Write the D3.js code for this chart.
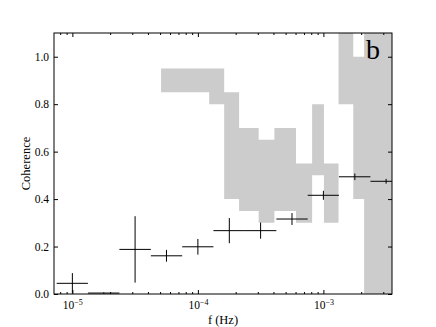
<!DOCTYPE html>
<html>
<head>
<meta charset="utf-8">
<script src="https://cdn.jsdelivr.net/npm/d3@7"></script>
<style>
  body { margin: 0; background: #fff; }
  svg text { font-family: "Liberation Serif", "DejaVu Serif", serif; fill: #000; }
</style>
</head>
<body>
<svg id="chart" width="436" height="327"></svg>
<script>
/* Data */
const freq   = [1e-5, 1.78e-5, 3.16e-5, 5.62e-5, 1e-4, 1.78e-4, 3.16e-4, 5.62e-4, 1e-3, 1.78e-3, 3.16e-3];
const freqLo = [7.5e-6, 1.33e-5, 2.37e-5, 4.22e-5, 7.5e-5, 1.33e-4, 2.37e-4, 4.22e-4, 7.5e-4, 1.33e-3, 2.37e-3];
const freqHi = [1.33e-5, 2.37e-5, 4.22e-5, 7.5e-5, 1.33e-4, 2.37e-4, 4.22e-4, 7.5e-4, 1.33e-3, 2.37e-3, 4.22e-3];
const coh    = [0.045, 0.004, 0.188, 0.161, 0.199, 0.267, 0.267, 0.316, 0.416, 0.494, 0.475];
const cohErr = [0.043, 0.003, 0.140, 0.025, 0.033, 0.053, 0.034, 0.025, 0.019, 0.014, 0.010];

/* grey band: step edges and upper / lower levels */
const bandEdges = [5.09e-5, 1.23e-4, 1.62e-4, 2.13e-4, 3.05e-4, 4.07e-4, 6.05e-4, 8.13e-4, 1.01e-3, 1.32e-3, 1.73e-3, 2.11e-3, 4.0e-3];
const bandUpper = [0.95, 0.95, 0.85, 0.70, 0.65, 0.70, 0.55, 0.80, 0.55, 1.20, 1.00, 1.20];
const bandLower = [0.85, 0.80, 0.40, 0.35, 0.30, 0.35, 0.30, 0.50, 0.30, 0.80, 0.40, 0.00];

const yTicks = [0, 0.2, 0.4, 0.6, 0.8, 1.0];
const xMajor = [1e-5, 1e-4, 1e-3];

/* Dimensions */
const margin = { top: 33, right: 44, bottom: 33, left: 54 };
const width = 436 - margin.left - margin.right;
const height = 327 - margin.top - margin.bottom;

const svg = d3.select("#chart")
  .append("g")
    .attr("transform", `translate(${margin.left},${margin.top})`);

/* Scales */
const x = d3.scaleLog().domain([7.14e-6, 3.52e-3]).range([0, width]);
const y = d3.scaleLinear().domain([0, 1.1]).range([height, 0]);

svg.append("clipPath").attr("id", "clip")
  .append("rect").attr("width", width).attr("height", height);

const plot = svg.append("g").attr("clip-path", "url(#clip)");

/* Band */
const bandData = bandEdges.map((e, i) => ({
  f: e,
  lo: bandLower[Math.min(i, bandLower.length - 1)],
  hi: bandUpper[Math.min(i, bandUpper.length - 1)]
}));
const area = d3.area()
  .x(d => x(d.f))
  .y0(d => y(d.lo))
  .y1(d => y(d.hi))
  .curve(d3.curveStepAfter);
plot.append("path")
  .datum(bandData)
  .attr("d", area)
  .attr("fill", "#cccccc");

/* Error bars */
const pts = freq.map((f, i) => ({ f, lo: freqLo[i], hi: freqHi[i], c: coh[i], e: cohErr[i] }));
const bars = plot.selectAll(".eb").data(pts).join("g").attr("class", "eb")
  .attr("stroke", "#000").attr("stroke-width", 1);
bars.append("line")
  .attr("x1", d => x(d.lo)).attr("x2", d => x(d.hi))
  .attr("y1", d => y(d.c)).attr("y2", d => y(d.c));
bars.append("line")
  .attr("x1", d => x(d.f)).attr("x2", d => x(d.f))
  .attr("y1", d => y(d.c - d.e)).attr("y2", d => y(d.c + d.e));

/* Axes, ticks inside on all sides */
const minor = x.ticks().filter(t => !xMajor.some(m => Math.abs(t / m - 1) < 1e-6));

svg.append("g")
  .attr("transform", `translate(0,${height})`)
  .call(d3.axisBottom(x).tickValues(xMajor).tickSize(-4).tickFormat(() => ""))
  .call(g => g.selectAll(".tick").each(function (d) {
    const t = d3.select(this).select("text");
    t.attr("y", 15).attr("dy", null).style("font-size", "11.5px");
    t.append("tspan").text("10");
    t.append("tspan").attr("dy", -4.5).style("font-size", "8px").text("\u2212" + Math.round(-Math.log10(d)));
  }));
svg.append("g")
  .attr("transform", `translate(0,${height})`)
  .call(d3.axisBottom(x).tickValues(minor).tickSize(-2).tickFormat(""));
svg.append("g")
  .call(d3.axisTop(x).tickValues(xMajor).tickSize(-4).tickFormat(""));
svg.append("g")
  .call(d3.axisTop(x).tickValues(minor).tickSize(-2).tickFormat(""));

svg.append("g")
  .call(d3.axisLeft(y).tickValues(yTicks).tickSize(-4).tickPadding(5).tickFormat(d3.format(".1f")))
  .call(g => g.selectAll("text").style("font-size", "11.5px"));
svg.append("g")
  .attr("transform", `translate(${width},0)`)
  .call(d3.axisRight(y).tickValues(yTicks).tickSize(-4).tickFormat(""));

svg.selectAll(".domain").remove();
svg.selectAll(".tick line").attr("stroke", "#000");

svg.append("rect")
  .attr("width", width).attr("height", height)
  .attr("fill", "none").attr("stroke", "#000").attr("stroke-width", 1);

/* Labels */
svg.append("text")
  .attr("text-anchor", "middle")
  .attr("x", width / 2).attr("y", height + 30)
  .style("font-size", "12.5px")
  .text("f (Hz)");

svg.append("text")
  .attr("text-anchor", "middle")
  .attr("transform", `translate(-24,${height / 2}) rotate(-90)`)
  .style("font-size", "12.5px")
  .text("Coherence");

svg.append("text")
  .attr("x", 312).attr("y", 26)
  .style("font-size", "28px")
  .text("b");
</script>
</body>
</html>
